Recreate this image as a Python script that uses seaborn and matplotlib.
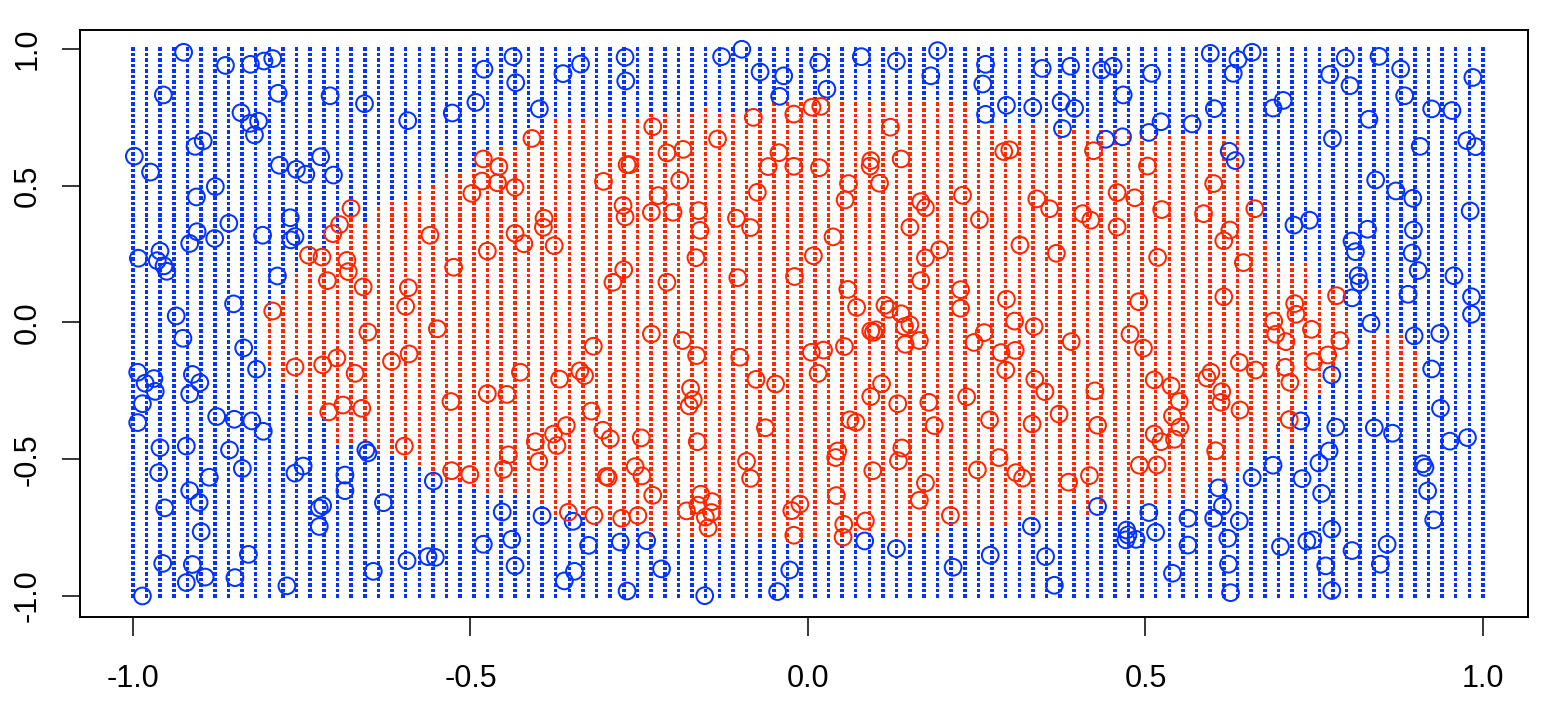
import numpy as np
import pandas as pd
import matplotlib
matplotlib.use("Agg")
import matplotlib.pyplot as plt
import seaborn as sns

# Стиль: белый фон, рамка как у базового графика R
sns.set_theme(style="white")
plt.rcParams['font.family'] = ['Liberation Sans', 'DejaVu Sans']
plt.rcParams['axes.unicode_minus'] = False

RED = "#ff2600"
BLUE = "#0433ff"

# Сетка предсказаний 100 x 100 на [-1, 1]^2
grid_n = 100

# Красная полоса (по y) для каждого столбца сетки, начиная со столбца 10
red_first_col = 10
red_lo = [-0.16, -0.22, -0.26, -0.34, -0.34, -0.45, -0.44, -0.45, -0.48, -0.49,
          -0.51, -0.53, -0.56, -0.58, -0.58, -0.60, -0.625, -0.625, -0.625, -0.625,
          -0.67, -0.70, -0.69, -0.71, -0.72, -0.73, -0.745, -0.745, -0.78, -0.745,
          -0.78, -0.795, -0.795, -0.78, -0.795, -0.78, -0.795, -0.795, -0.795, -0.795,
          -0.795, -0.795, -0.78, -0.76, -0.77, -0.77, -0.78, -0.78, -0.77, -0.77,
          -0.73, -0.745, -0.745, -0.745, -0.745, -0.72, -0.71, -0.71, -0.72, -0.67,
          -0.70, -0.67, -0.68, -0.67, -0.67, -0.66, -0.64, -0.64, -0.65, -0.59,
          -0.59, -0.54, -0.50, -0.47, -0.36, -0.45, -0.28, -0.27, -0.23, -0.15,
          np.nan, -0.29, -0.29, -0.29, -0.25]
red_hi = [0.04, 0.10, 0.19, 0.26, 0.27, 0.33, 0.39, 0.37, 0.42, 0.44,
          0.44, 0.49, 0.50, 0.545, 0.545, 0.57, 0.63, 0.655, 0.655, 0.70,
          0.70, 0.74, 0.74, 0.74, 0.74, 0.74, 0.74, 0.74, 0.765, 0.765,
          0.765, 0.765, 0.78, 0.765, 0.765, 0.765, 0.765, 0.81, 0.81, 0.81,
          0.81, 0.81, 0.80, 0.80, 0.80, 0.80, 0.80, 0.80, 0.80, 0.80,
          0.80, 0.80, 0.725, 0.725, 0.725, 0.725, 0.725, 0.725, 0.70, 0.70,
          0.70, 0.70, 0.70, 0.70, 0.68, 0.68, 0.68, 0.68, 0.68, 0.68,
          0.68, 0.68, 0.41, 0.31, 0.22, 0.22, 0.22, 0.12, 0.12, 0.05,
          np.nan, -0.04, -0.04, -0.05, -0.10]

# Обучающие точки
red_x = [-0.677, -0.694, -0.704, -0.560, -0.740, -0.720, -0.683, -0.681, -0.712, -0.659,
         -0.592, -0.596, -0.793,
         -0.409, -0.230, -0.134, -0.081, -0.021, -0.481, -0.458, -0.483, -0.460, -0.498,
         -0.434, -0.209, -0.185, -0.268, -0.264, -0.303, -0.190, -0.043, -0.059, -0.021,
         -0.075, -0.222, -0.274, -0.271, -0.232, -0.200, -0.162, -0.160, -0.106, -0.085,
         -0.391, -0.392, -0.434, -0.421, -0.376, -0.475, -0.525, -0.166, -0.273, -0.289,
         -0.209, -0.104, -0.020,
         0.006, 0.019, 0.122, 0.290, 0.299, 0.423, 0.017, 0.093, 0.092, 0.138,
         0.060, 0.106, 0.055, 0.167, 0.174, 0.229, 0.503, 0.339, 0.358, 0.458,
         0.484, 0.524, 0.407, 0.419, 0.458, 0.254, 0.151, 0.037, 0.008, 0.174,
         0.195, 0.314, 0.368, 0.518, 0.167, 0.059, 0.072, 0.114, 0.120, 0.138,
         0.226, 0.226, 0.294, 0.490, 0.306,
         0.601, 0.586, 0.662, 0.625, 0.616, 0.645, 0.616, 0.721, 0.723, 0.783, 0.690,
         -0.652, -0.549, -0.760, -0.719, -0.698, -0.671, -0.617, -0.591, -0.710, -0.689,
         -0.661, -0.598,
         -0.232, -0.318, -0.186, -0.165, -0.101, -0.426, -0.368, -0.338, -0.331, -0.529,
         -0.475, -0.446, -0.321, -0.174, -0.170, -0.176, -0.077, -0.048, -0.063, -0.404,
         -0.377, -0.372, -0.358, -0.304, -0.293, -0.247, -0.164, -0.444, -0.451, -0.399,
         -0.528, -0.501, -0.299, -0.296, -0.256, -0.246, -0.230, -0.091, -0.085, -0.355,
         -0.317, -0.276, -0.252, -0.180, -0.163, -0.159, -0.142, -0.143, -0.152, -0.148,
         -0.024, -0.012, -0.021,
         0.093, 0.101, 0.097, 0.143, 0.151, 0.144, 0.165, 0.005, 0.023, 0.054,
         0.015, 0.246, 0.261, 0.335, 0.286, 0.307, 0.293, 0.390, 0.477, 0.497,
         0.336, 0.351, 0.513, 0.093, 0.109, 0.133, 0.179, 0.235, 0.425, 0.062,
         0.071, 0.187, 0.269, 0.332, 0.372, 0.429, 0.513, 0.523, 0.044, 0.041,
         0.139, 0.134, 0.096, 0.251, 0.283, 0.308, 0.318, 0.174, 0.165, 0.386,
         0.417, 0.491, 0.517, 0.042, 0.053, 0.052, 0.085, 0.211,
         0.693, 0.708, 0.746, 0.788, 0.770, 0.749, 0.707, 0.714, 0.639, 0.663,
         0.597, 0.591, 0.538, 0.550, 0.613, 0.612, 0.640, 0.540, 0.551, 0.543,
         0.604, 0.713]
red_y = [0.417, 0.358, 0.325, 0.319, 0.246, 0.239, 0.227, 0.186, 0.153, 0.130,
         0.127, 0.059, 0.042,
         0.673, 0.716, 0.671, 0.750, 0.762, 0.598, 0.570, 0.517, 0.511, 0.472,
         0.494, 0.620, 0.633, 0.577, 0.577, 0.516, 0.520, 0.621, 0.570, 0.571,
         0.476, 0.464, 0.428, 0.386, 0.403, 0.403, 0.409, 0.337, 0.381, 0.347,
         0.381, 0.348, 0.326, 0.288, 0.281, 0.261, 0.202, 0.237, 0.193, 0.147,
         0.147, 0.164, 0.168,
         0.787, 0.790, 0.714, 0.625, 0.631, 0.628, 0.566, 0.592, 0.572, 0.598,
         0.508, 0.509, 0.448, 0.442, 0.420, 0.465, 0.572, 0.452, 0.416, 0.475,
         0.456, 0.413, 0.398, 0.374, 0.349, 0.376, 0.348, 0.313, 0.244, 0.236,
         0.266, 0.283, 0.253, 0.238, 0.153, 0.121, 0.055, 0.063, 0.048, 0.032,
         0.120, 0.052, 0.085, 0.076, 0.005,
         0.508, 0.398, 0.416, 0.338, 0.299, 0.219, 0.094, 0.069, 0.030, 0.098, 0.005,
         -0.035, -0.023, -0.163, -0.155, -0.130, -0.186, -0.142, -0.115, -0.327, -0.302,
         -0.314, -0.452,
         -0.042, -0.087, -0.066, -0.121, -0.127, -0.182, -0.207, -0.177, -0.194, -0.289,
         -0.260, -0.263, -0.324, -0.241, -0.283, -0.305, -0.208, -0.225, -0.385, -0.436,
         -0.408, -0.450, -0.377, -0.394, -0.425, -0.422, -0.436, -0.484, -0.537, -0.508,
         -0.542, -0.556, -0.563, -0.567, -0.527, -0.561, -0.632, -0.508, -0.570, -0.694,
         -0.706, -0.716, -0.706, -0.689, -0.668, -0.628, -0.655, -0.695, -0.712, -0.751,
         -0.688, -0.664, -0.778,
         -0.031, -0.027, -0.036, -0.015, -0.008, -0.080, -0.066, -0.109, -0.101, -0.088,
         -0.186, -0.073, -0.037, -0.015, -0.110, -0.102, -0.174, -0.070, -0.043, -0.094,
         -0.208, -0.253, -0.210, -0.271, -0.224, -0.297, -0.292, -0.272, -0.250, -0.356,
         -0.365, -0.377, -0.356, -0.371, -0.335, -0.376, -0.408, -0.436, -0.470, -0.494,
         -0.459, -0.506, -0.542, -0.539, -0.494, -0.549, -0.569, -0.587, -0.650, -0.584,
         -0.560, -0.522, -0.521, -0.633, -0.738, -0.785, -0.726, -0.706,
         -0.043, -0.070, -0.025, -0.066, -0.119, -0.143, -0.164, -0.219, -0.146, -0.174,
         -0.182, -0.203, -0.232, -0.289, -0.253, -0.292, -0.320, -0.342, -0.383, -0.427,
         -0.469, -0.355]

blue_x = [-0.925, -0.863, -0.826, -0.806, -0.793, -0.955, -0.785, -0.708, -0.657, -0.840,
          -0.827, -0.814, -0.820, -0.593, -0.896, -0.908, -0.998, -0.974, -0.783, -0.758,
          -0.744, -0.722, -0.703, -0.878, -0.906, -0.767, -0.858, -0.905, -0.916, -0.879,
          -0.808, -0.760, -0.766, -0.992, -0.960, -0.964, -0.954, -0.950, -0.786, -0.851,
          -0.936,
          -0.527, -0.492, -0.480, -0.437, -0.433, -0.398, -0.363, -0.337, -0.271, -0.270,
          -0.128, -0.098, -0.071, -0.036, -0.042,
          0.016, 0.028, 0.079, 0.131, 0.192, 0.182, 0.263, 0.259, 0.263, 0.294,
          0.333, 0.347, 0.389, 0.375, 0.395, 0.377, 0.435, 0.452, 0.467, 0.509,
          0.441, 0.466, 0.505, 0.523,
          0.596, 0.637, 0.658, 0.630, 0.569, 0.602, 0.689, 0.704, 0.773, 0.796,
          0.803, 0.846, 0.878, 0.884, 0.985, 0.831, 0.924, 0.954, 0.777, 0.624,
          0.633, 0.907, 0.976, 0.989, 0.841, 0.871, 0.896, 0.981, 0.720, 0.743,
          0.829, 0.897, 0.806, 0.811, 0.895, 0.904, 0.815, 0.817, 0.957, 0.806,
          0.889, 0.983, 0.983, 0.834,
          -0.926, -0.836, -0.817, -0.993, -0.982, -0.969, -0.967, -0.986, -0.993, -0.912,
          -0.901, -0.916, -0.876, -0.850, -0.824, -0.807, -0.960, -0.921, -0.857, -0.962,
          -0.838, -0.887, -0.916, -0.902, -0.953, -0.899, -0.760, -0.748, -0.686, -0.686,
          -0.655, -0.652, -0.629, -0.724, -0.719, -0.724, -0.555, -0.956, -0.912, -0.921,
          -0.893, -0.849, -0.829, -0.986, -0.772, -0.644, -0.594, -0.563, -0.552,
          -0.453, -0.394, -0.348, -0.481, -0.439, -0.434, -0.325, -0.278, -0.239, -0.346,
          -0.361, -0.268, -0.217, -0.153, -0.045, -0.027,
          0.084, 0.131, 0.215, 0.270, 0.331, 0.352, 0.365, 0.429, 0.472, 0.474,
          0.471, 0.486, 0.505, 0.515,
          0.898, 0.936, 0.776, 0.924, 0.937, 0.730, 0.782, 0.839, 0.866, 0.951,
          0.977, 0.772, 0.757, 0.689, 0.658, 0.732, 0.761, 0.608, 0.911, 0.914,
          0.918, 0.927, 0.614, 0.563, 0.601, 0.639, 0.622, 0.563, 0.700, 0.739,
          0.748, 0.776, 0.806, 0.858, 0.848, 0.623, 0.767, 0.540, 0.626, 0.776]
blue_y = [0.988, 0.940, 0.944, 0.956, 0.965, 0.832, 0.838, 0.829, 0.800, 0.767,
          0.728, 0.736, 0.686, 0.738, 0.664, 0.644, 0.608, 0.550, 0.575, 0.560,
          0.542, 0.606, 0.539, 0.497, 0.459, 0.383, 0.363, 0.332, 0.289, 0.307,
          0.319, 0.314, 0.302, 0.235, 0.261, 0.226, 0.207, 0.187, 0.170, 0.068,
          0.024,
          0.766, 0.805, 0.926, 0.972, 0.877, 0.781, 0.910, 0.945, 0.970, 0.883,
          0.972, 0.999, 0.916, 0.902, 0.827,
          0.951, 0.853, 0.972, 0.955, 0.994, 0.902, 0.944, 0.872, 0.761, 0.794,
          0.787, 0.929, 0.937, 0.807, 0.783, 0.709, 0.923, 0.937, 0.832, 0.911,
          0.670, 0.679, 0.695, 0.734,
          0.984, 0.961, 0.988, 0.911, 0.726, 0.782, 0.784, 0.812, 0.907, 0.967,
          0.866, 0.973, 0.927, 0.829, 0.896, 0.743, 0.781, 0.775, 0.672, 0.626,
          0.592, 0.644, 0.665, 0.643, 0.521, 0.481, 0.454, 0.408, 0.356, 0.374,
          0.341, 0.338, 0.298, 0.259, 0.254, 0.190, 0.171, 0.146, 0.171, 0.090,
          0.103, 0.094, 0.030, -0.003,
          -0.058, -0.093, -0.171, -0.182, -0.222, -0.205, -0.252, -0.297, -0.366, -0.190,
          -0.220, -0.261, -0.344, -0.354, -0.360, -0.398, -0.458, -0.452, -0.466, -0.549,
          -0.534, -0.566, -0.615, -0.658, -0.678, -0.765, -0.551, -0.525, -0.558, -0.615,
          -0.466, -0.477, -0.659, -0.679, -0.670, -0.746, -0.580, -0.881, -0.885, -0.951,
          -0.931, -0.933, -0.848, -1.000, -0.963, -0.910, -0.871, -0.856, -0.859,
          -0.693, -0.707, -0.727, -0.811, -0.793, -0.890, -0.815, -0.803, -0.798, -0.910,
          -0.945, -0.982, -0.901, -0.999, -0.984, -0.905,
          -0.799, -0.827, -0.895, -0.851, -0.745, -0.856, -0.961, -0.673, -0.759, -0.777,
          -0.795, -0.793, -0.695, -0.767,
          -0.049, -0.040, -0.192, -0.170, -0.314, -0.360, -0.383, -0.385, -0.405, -0.434,
          -0.421, -0.470, -0.514, -0.522, -0.567, -0.571, -0.625, -0.605, -0.517, -0.530,
          -0.616, -0.722, -0.671, -0.716, -0.716, -0.726, -0.789, -0.814, -0.820, -0.800,
          -0.795, -0.756, -0.834, -0.811, -0.884, -0.884, -0.890, -0.917, -0.988, -0.980]

x_ticks = [-1.0, -0.5, 0.0, 0.5, 1.0]
y_ticks = [-1.0, -0.5, 0.0, 0.5, 1.0]
tick_labels = ["-1.0", "-0.5", "0.0", "0.5", "1.0"]


def build_grid():
    """Сетка с классом каждой точки"""
    gx = np.linspace(-1, 1, grid_n)
    gy = np.linspace(-1, 1, grid_n)
    lo = np.full(grid_n, np.nan)
    hi = np.full(grid_n, np.nan)
    lo[red_first_col:red_first_col + len(red_lo)] = red_lo
    hi[red_first_col:red_first_col + len(red_hi)] = red_hi
    X, Y = np.meshgrid(gx, gy, indexing="ij")
    with np.errstate(invalid="ignore"):
        inside = (Y >= lo[:, None] - 1e-9) & (Y <= hi[:, None] + 1e-9)
    return pd.DataFrame({
        "x": X.ravel(),
        "y": Y.ravel(),
        "cls": np.where(inside.ravel(), "red", "blue"),
    })


grid = build_grid()

fig = plt.figure(figsize=(15.42, 7.06), dpi=100)
ax = fig.add_axes([80 / 1542, 1 - 617 / 706, (1528 - 80) / 1542, (617 - 30) / 706])

# Точки сетки
sns.scatterplot(data=grid, x="x", y="y", hue="cls",
                palette={"red": RED, "blue": BLUE},
                marker="s", s=6.5, linewidth=0, legend=False, ax=ax, zorder=1)

# Обучающие точки - пустые кружки
sns.scatterplot(x=blue_x, y=blue_y, marker="o", s=145, facecolor="none",
                edgecolor=BLUE, linewidth=1.45, ax=ax, zorder=2)
sns.scatterplot(x=red_x, y=red_y, marker="o", s=145, facecolor="none",
                edgecolor=RED, linewidth=1.45, ax=ax, zorder=2)

ax.set_xlim(-1.0785, 1.0667)
ax.set_ylim(-1.077, 1.0695)
ax.set_xlabel("")
ax.set_ylabel("")

ax.set_xticks(x_ticks)
ax.set_xticklabels(tick_labels)
ax.set_yticks(y_ticks)
ax.set_yticklabels(tick_labels, rotation=90, va="center")

for side in ["left", "right", "top", "bottom"]:
    ax.spines[side].set_visible(True)
    ax.spines[side].set_color("black")
    ax.spines[side].set_linewidth(1.4)

ax.tick_params(axis="x", direction="out", length=13.5, width=1.1, pad=20,
               labelsize=22, colors="black", bottom=True)
ax.tick_params(axis="y", direction="out", length=13, width=1.1, pad=14,
               labelsize=22, colors="black", left=True)

fig.savefig("out.png", dpi=100)
plt.close(fig)
